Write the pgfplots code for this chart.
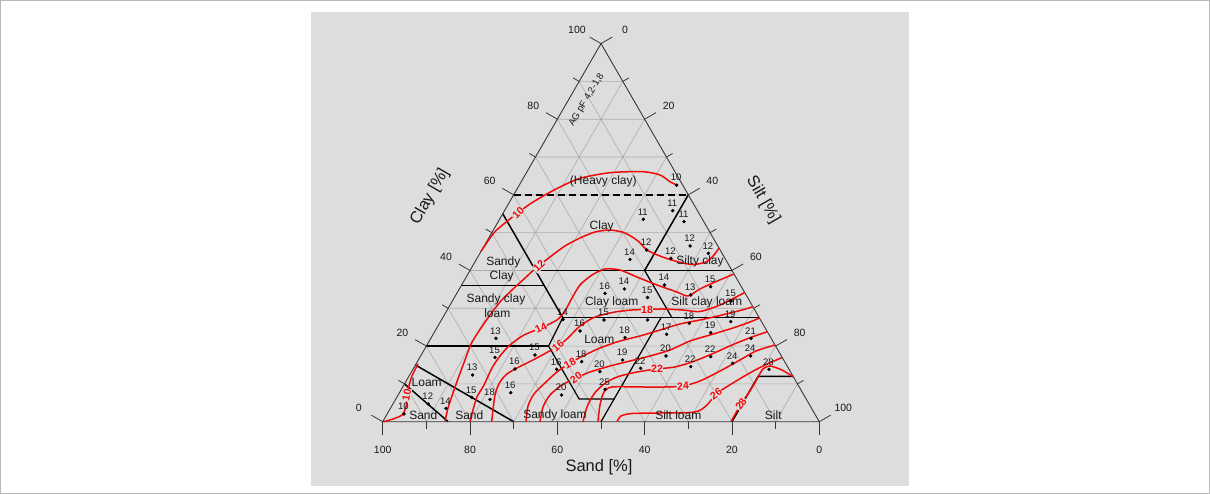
\documentclass[border=0pt]{standalone}
\usepackage{fontspec}
\setmainfont{Liberation Sans}
\usepackage{pgfplots}
\usepackage{pgfplotstable}
\pgfplotsset{compat=1.18}
\definecolor{panel}{RGB}{221,221,221}
\definecolor{gridc}{RGB}{172,172,172}
\definecolor{edgec}{RGB}{55,55,55}
\definecolor{cred}{RGB}{240,10,10}
\definecolor{txt}{RGB}{25,25,25}
\definecolor{framec}{RGB}{185,185,185}
\tikzset{
  cont/.style={cred, line width=1.5pt, smooth, tension=0.45},
  bnd/.style={black, line width=1.5pt},
  tk/.style={edgec, line width=0.8pt},
  ticklab/.style={font=\fontsize{10.5}{12}\selectfont, text=txt, inner sep=0pt},
  cls/.style={font=\fontsize{12}{14}\selectfont, text=txt, inner sep=0pt},
  ttl/.style={font=\fontsize{16.5}{18}\selectfont, text=txt, inner sep=0pt},
  clab/.style={fill=panel, inner sep=0.6pt, text=cred, font=\fontsize{10.5}{12}\selectfont\bfseries},
}

% contour lines: silt [%], clay [%]
\pgfplotstableread{
silt clay
0.00 45.0
0.29 48.58
0.76 50.70
2.97 54.67
4.95 57.58
7.19 59.96
9.57 62.07
13.00 64.37
19.13 65.86
26.56 66.12
30.89 65.25
34.06 63.48
36.04 62.60
}\cA
\pgfplotstableread{
silt clay
0.18 0
2.00 0.71
3.53 1.77
3.39 3.89
1.60 8.38
0.67 12.09
0.46 15.26
}\cB
\pgfplotstableread{
silt clay
14.27 0
13.15 3.62
12.31 7.59
11.43 12.09
10.69 16.32
9.95 20.55
10.06 23.99
10.40 27.43
11.04 31.66
12.20 34.83
13.49 37.74
14.79 40.65
16.54 43.56
18.52 46.47
20.90 48.58
23.55 50.17
26.71 50.70
30.55 49.91
34.58 47.79
37.84 45.41
41.60 43.82
45.70 42.50
50.05 41.58
52.93 42.24
53.84 44.09
54.06 45.94
}\cC
\pgfplotstableread{
silt clay
20.00 0
19.14 3.09
18.33 6.53
18.35 9.71
17.93 14.20
18.18 17.38
19.01 20.29
20.90 22.93
23.87 24.78
26.47 26.90
27.11 29.28
27.00 32.72
27.12 36.15
28.54 38.80
30.72 40.39
34.29 40.12
39.11 38.27
44.76 36.15
50.26 34.30
53.31 33.25
55.12 35.10
57.64 36.95
60.94 39.06
}\cD
\pgfplotstableread{
silt clay
24.97 0
22.19 7.06
21.62 10.50
22.16 12.62
23.66 14.20
26.26 16.32
28.32 18.17
30.14 20.02
31.37 22.14
32.54 25.31
34.79 27.69
38.71 29.01
42.33 29.54
45.71 29.67
49.07 29.81
54.01 29.54
58.10 29.15
61.83 30.87
65.83 34.17
}\cE
\pgfplotstableread{
silt clay
32.82 0
31.21 4.15
30.99 7.33
32.05 10.24
33.35 13.14
35.14 15.52
37.19 17.38
40.03 19.49
43.68 21.34
47.60 22.67
51.39 24.25
55.17 25.84
59.22 26.90
63.60 28.22
67.53 29.54
69.59 30.41
}\cF
\pgfplotstableread{
silt clay
36.03 0
34.78 3.89
34.79 7.06
36.22 9.71
38.49 11.56
40.91 13.14
44.70 14.73
48.62 16.05
52.53 17.38
56.32 18.96
59.71 21.34
63.50 22.93
67.84 24.78
70.95 26.37
72.57 27.43
}\cG
\pgfplotstableread{
silt clay
45.88 0
44.85 3.89
44.73 7.33
45.70 9.97
47.75 11.82
51.67 13.14
55.86 13.94
59.71 14.47
62.95 15.79
66.47 17.91
69.86 20.29
73.38 22.40
76.20 23.80
}\cH
\pgfplotstableread{
silt clay
49.31 0
47.56 4.42
46.76 7.86
47.93 9.18
54.34 9.18
60.07 9.18
64.06 9.44
67.29 10.76
70.56 13.41
73.68 16.32
76.15 18.70
79.71 20.29
}\cI
\pgfplotstableread{
silt clay
53.66 0
53.83 1.51
56.02 2.17
62.36 2.30
70.25 2.57
72.07 4.42
72.68 7.33
74.37 9.44
77.36 12.62
80.06 15.00
83.02 16.98
}\cJ
\pgfplotstableread{
silt clay
79.77 0
79.73 4.68
80.07 8.12
80.08 11.29
80.13 13.94
81.35 14.73
84.62 13.67
88.03 11.90
}\cK
% measured samples
\pgfplotstableread{
silt clay lab
36.07 62.55 10
38.52 55.81 11
32.93 53.53 11
42.56 52.90 11
37.77 45.41 12
47.16 46.47 12
52.31 44.54 12
44.42 43.22 12
35.17 42.95 14
33.94 33.96 16
37.79 35.10 14
44.23 32.85 15
46.47 36.15 14
53.80 33.51 13
57.28 35.70 15
63.82 31.92 15
37.24 26.90 15
27.79 27.03 14
33.20 23.99 16
44.39 22.22 18
53.49 23.12 17
57.22 26.02 18
63.36 23.54 19
66.49 26.45 19
73.33 22.06 21
37.65 15.87 18
46.81 16.32 19
56.20 17.38 20
52.03 14.12 22
63.28 14.55 22
66.54 17.19 22
72.45 15.45 24
75.60 17.38 24
81.55 13.86 28
43.16 13.22 20
32.92 13.86 16
46.64 8.57 25
37.47 7.06 20
25.49 7.67 16
21.62 5.92 18
17.16 6.45 15
14.44 12.35 13
14.92 22.06 13
17.21 17.03 15
26.06 17.64 15
23.33 13.94 16
8.10 4.68 12
12.73 3.54 14
3.86 2.04 10
}\samples

\begin{document}
\begin{tikzpicture}
\begin{axis}[scale only axis, width=1210pt, height=494pt,
  xmin=-87.65, xmax=189.49, ymin=-19.12, ymax=111.53,
  hide axis, clip=false,
]
% backgrounds
\fill[white] (rel axis cs:0,0) rectangle (rel axis cs:1,1);
\fill[panel] (axis cs:-16.42,-17.01) rectangle (axis cs:120.55,108.36);
\draw[framec, line width=1pt] ([shift={(0.5pt,0.5pt)}]rel axis cs:0,0) rectangle ([shift={(-0.5pt,-0.5pt)}]rel axis cs:1,1);
% grid
\draw[gridc, line width=0.6pt]
 (axis cs:5,10) -- (axis cs:95,10) (axis cs:10,20) -- (axis cs:90,20)
 (axis cs:15,30) -- (axis cs:85,30) (axis cs:20,40) -- (axis cs:80,40)
 (axis cs:25,50) -- (axis cs:75,50) (axis cs:30,60) -- (axis cs:70,60)
 (axis cs:35,70) -- (axis cs:65,70) (axis cs:40,80) -- (axis cs:60,80)
 (axis cs:45,90) -- (axis cs:55,90)
 (axis cs:10,0) -- (axis cs:55,90) (axis cs:20,0) -- (axis cs:60,80)
 (axis cs:30,0) -- (axis cs:65,70) (axis cs:40,0) -- (axis cs:70,60)
 (axis cs:50,0) -- (axis cs:75,50) (axis cs:60,0) -- (axis cs:80,40)
 (axis cs:70,0) -- (axis cs:85,30) (axis cs:80,0) -- (axis cs:90,20)
 (axis cs:90,0) -- (axis cs:95,10)
 (axis cs:90,0) -- (axis cs:45,90) (axis cs:80,0) -- (axis cs:40,80)
 (axis cs:70,0) -- (axis cs:35,70) (axis cs:60,0) -- (axis cs:30,60)
 (axis cs:50,0) -- (axis cs:25,50) (axis cs:40,0) -- (axis cs:20,40)
 (axis cs:30,0) -- (axis cs:15,30) (axis cs:20,0) -- (axis cs:10,20)
 (axis cs:10,0) -- (axis cs:5,10);
% texture class boundaries
\draw[bnd, dash pattern=on 7pt off 4pt] (axis cs:30,60) -- (axis cs:70,60);
\draw[bnd] (axis cs:27.5,55) -- (axis cs:41.25,27.5);
\draw[bnd] (axis cs:35,40) -- (axis cs:80,40);
\draw[bnd] (axis cs:70,60) -- (axis cs:60,40);
\draw[bnd, line width=1.2pt] (axis cs:18,36) -- (axis cs:37,36);
\draw[bnd, line width=1.2pt] (axis cs:10,20) -- (axis cs:38,20);
\draw[bnd, line width=1.2pt] (axis cs:41.25,27.5) -- (axis cs:38,20) -- (axis cs:45,6) -- (axis cs:53,6) -- (axis cs:63.75,27.5);
\draw[bnd, line width=1.2pt] (axis cs:50,0) -- (axis cs:53,6);
\draw[bnd] (axis cs:41.25,27.5) -- (axis cs:86.25,27.5);
\draw[bnd, line width=1.2pt] (axis cs:66.25,27.5) -- (axis cs:60,40);
\draw[bnd] (axis cs:80,0) -- (axis cs:86,12) -- (axis cs:94,12);
\draw[bnd] (axis cs:7.5,15) -- (axis cs:30,0);
\draw[bnd] (axis cs:5,10) -- (axis cs:15,0);
% triangle
\draw[edgec, line width=0.9pt] (axis cs:0,0) -- (axis cs:100,0) -- (axis cs:50,100) -- cycle;
% ticks: bottom (sand)
\draw[tk] (axis cs:0,0) -- (axis cs:0,-3.438);
\draw[tk] (axis cs:20,0) -- (axis cs:20,-3.438);
\draw[tk] (axis cs:40,0) -- (axis cs:40,-3.438);
\draw[tk] (axis cs:60,0) -- (axis cs:60,-3.438);
\draw[tk] (axis cs:80,0) -- (axis cs:80,-3.438);
\draw[tk] (axis cs:100,0) -- (axis cs:100,-3.438);
\draw[tk] (axis cs:10,0) -- (axis cs:10,-1.851);
\draw[tk] (axis cs:30,0) -- (axis cs:30,-1.851);
\draw[tk] (axis cs:50,0) -- (axis cs:50,-1.851);
\draw[tk] (axis cs:70,0) -- (axis cs:70,-1.851);
\draw[tk] (axis cs:90,0) -- (axis cs:90,-1.851);
% ticks: left (clay)
\draw[tk] (axis cs:0,0) -- (axis cs:-2.579,1.719);
\draw[tk] (axis cs:10,20) -- (axis cs:7.421,21.719);
\draw[tk] (axis cs:20,40) -- (axis cs:17.421,41.719);
\draw[tk] (axis cs:30,60) -- (axis cs:27.421,61.719);
\draw[tk] (axis cs:40,80) -- (axis cs:37.421,81.719);
\draw[tk] (axis cs:50,100) -- (axis cs:47.421,101.719);
\draw[tk] (axis cs:5,10) -- (axis cs:3.612,10.926);
\draw[tk] (axis cs:15,30) -- (axis cs:13.612,30.926);
\draw[tk] (axis cs:25,50) -- (axis cs:23.612,50.926);
\draw[tk] (axis cs:35,70) -- (axis cs:33.612,70.926);
\draw[tk] (axis cs:45,90) -- (axis cs:43.612,90.926);
% ticks: right (silt)
\draw[tk] (axis cs:50,100) -- (axis cs:52.579,101.719);
\draw[tk] (axis cs:60,80) -- (axis cs:62.579,81.719);
\draw[tk] (axis cs:70,60) -- (axis cs:72.579,61.719);
\draw[tk] (axis cs:80,40) -- (axis cs:82.579,41.719);
\draw[tk] (axis cs:90,20) -- (axis cs:92.579,21.719);
\draw[tk] (axis cs:100,0) -- (axis cs:102.579,1.719);
\draw[tk] (axis cs:55,90) -- (axis cs:56.388,90.926);
\draw[tk] (axis cs:65,70) -- (axis cs:66.388,70.926);
\draw[tk] (axis cs:75,50) -- (axis cs:76.388,50.926);
\draw[tk] (axis cs:85,30) -- (axis cs:86.388,30.926);
\draw[tk] (axis cs:95,10) -- (axis cs:96.388,10.926);
% tick labels
\node[ticklab, yshift=-28.3pt] at (axis cs:0,0) {100};
\node[ticklab, yshift=-28.3pt] at (axis cs:20,0) {80};
\node[ticklab, yshift=-28.3pt] at (axis cs:40,0) {60};
\node[ticklab, yshift=-28.3pt] at (axis cs:60,0) {40};
\node[ticklab, yshift=-28.3pt] at (axis cs:80,0) {20};
\node[ticklab, yshift=-28.3pt] at (axis cs:100,0) {0};
\node[ticklab, xshift=-24pt, yshift=13.5pt] at (axis cs:0,0) {0};
\node[ticklab, xshift=-24pt, yshift=13.5pt] at (axis cs:10,20) {20};
\node[ticklab, xshift=-24pt, yshift=13.5pt] at (axis cs:20,40) {40};
\node[ticklab, xshift=-24pt, yshift=13.5pt] at (axis cs:30,60) {60};
\node[ticklab, xshift=-24pt, yshift=13.5pt] at (axis cs:40,80) {80};
\node[ticklab, xshift=-24pt, yshift=13.5pt] at (axis cs:50,100) {100};
\node[ticklab, xshift=24pt, yshift=13.5pt] at (axis cs:50,100) {0};
\node[ticklab, xshift=24pt, yshift=13.5pt] at (axis cs:60,80) {20};
\node[ticklab, xshift=24pt, yshift=13.5pt] at (axis cs:70,60) {40};
\node[ticklab, xshift=24pt, yshift=13.5pt] at (axis cs:80,40) {60};
\node[ticklab, xshift=24pt, yshift=13.5pt] at (axis cs:90,20) {80};
\node[ticklab, xshift=24pt, yshift=13.5pt] at (axis cs:100,0) {100};
% axis titles
\node[ttl] at (axis cs:49.54,-11.98) {Sand [\%]};
\node[ttl, rotate=60] at (axis cs:10.83,59.5) {Clay [\%]};
\node[ttl, rotate=-60] at (axis cs:87.1,58.7) {Silt [\%]};
\node[font=\fontsize{9.5}{11}\selectfont, text=txt, rotate=59, inner sep=0pt] at (axis cs:46.72,85.08) {AG pF 4,2-1,8};
% contours
\addplot[cont] table[x expr=\thisrow{silt}+0.5*\thisrow{clay}, y=clay] {\cA};
\addplot[cont] table[x expr=\thisrow{silt}+0.5*\thisrow{clay}, y=clay] {\cB};
\addplot[cont] table[x expr=\thisrow{silt}+0.5*\thisrow{clay}, y=clay] {\cC};
\addplot[cont] table[x expr=\thisrow{silt}+0.5*\thisrow{clay}, y=clay] {\cD};
\addplot[cont] table[x expr=\thisrow{silt}+0.5*\thisrow{clay}, y=clay] {\cE};
\addplot[cont] table[x expr=\thisrow{silt}+0.5*\thisrow{clay}, y=clay] {\cF};
\addplot[cont] table[x expr=\thisrow{silt}+0.5*\thisrow{clay}, y=clay] {\cG};
\addplot[cont] table[x expr=\thisrow{silt}+0.5*\thisrow{clay}, y=clay] {\cH};
\addplot[cont] table[x expr=\thisrow{silt}+0.5*\thisrow{clay}, y=clay] {\cI};
\addplot[cont] table[x expr=\thisrow{silt}+0.5*\thisrow{clay}, y=clay] {\cJ};
\addplot[cont] table[x expr=\thisrow{silt}+0.5*\thisrow{clay}, y=clay] {\cK};
% contour labels
\node[clab, rotate=45] at (axis cs:31.06,55.12) {10};
\node[clab, rotate=80] at (axis cs:5.50,7.06) {10};
\node[clab, rotate=45] at (axis cs:35.80,41.18) {12};
\node[clab, rotate=25] at (axis cs:36.26,24.78) {14};
\node[clab, rotate=40] at (axis cs:40.15,20.02) {16};
\node[clab, rotate=30] at (axis cs:42.90,15.52) {18};
\node[clab, rotate=35] at (axis cs:44.27,11.56) {20};
\node[clab] at (axis cs:60.54,29.67) {18};
\node[clab] at (axis cs:62.83,13.94) {22};
\node[clab, rotate=5] at (axis cs:68.78,9.44) {24};
\node[clab, rotate=35] at (axis cs:76.34,7.33) {26};
\node[clab, rotate=55] at (axis cs:82.07,4.68) {28};
% samples
\addplot[only marks, mark=*, mark size=1.5pt, black, nodes near coords, point meta=explicit symbolic,
  every node near coord/.style={anchor=center, yshift=7.5pt, xshift=-0.5pt, inner sep=0pt,
    text=txt, font=\fontsize{9.5}{11}\selectfont}]
  table[x expr=\thisrow{silt}+0.5*\thisrow{clay}, y=clay, meta=lab] {\samples};
\addplot[only marks, mark=*, mark size=1.5pt, black] coordinates {(60.70,26.90)};
% class names
\node[cls] at (axis cs:50.52,63.66) {(Heavy clay)};
\node[cls] at (axis cs:50.16,51.57) {Clay};
\node[cls] at (axis cs:72.68,42.32) {Silty clay};
\node[cls] at (axis cs:27.62,42.16) {Sandy};
\node[cls] at (axis cs:27.26,38.35) {Clay};
\node[cls] at (axis cs:25.95,32.45) {Sandy clay};
\node[cls] at (axis cs:26.25,28.67) {loam};
\node[cls] at (axis cs:52.45,31.47) {Clay loam};
\node[cls] at (axis cs:74.21,31.58) {Silt clay loam};
\node[cls] at (axis cs:49.61,21.79) {Loam};
\node[cls] at (axis cs:39.46,1.77) {Sandy loam};
\node[cls] at (axis cs:67.70,1.77) {Silt loam};
\node[cls] at (axis cs:89.46,1.77) {Silt};
\node[cls] at (axis cs:9.30,1.77) {Sand};
\node[cls] at (axis cs:19.83,1.77) {Sand};
\node[cls] at (axis cs:10.08,10.31) {Loam};
\end{axis}
\end{tikzpicture}
\end{document}
